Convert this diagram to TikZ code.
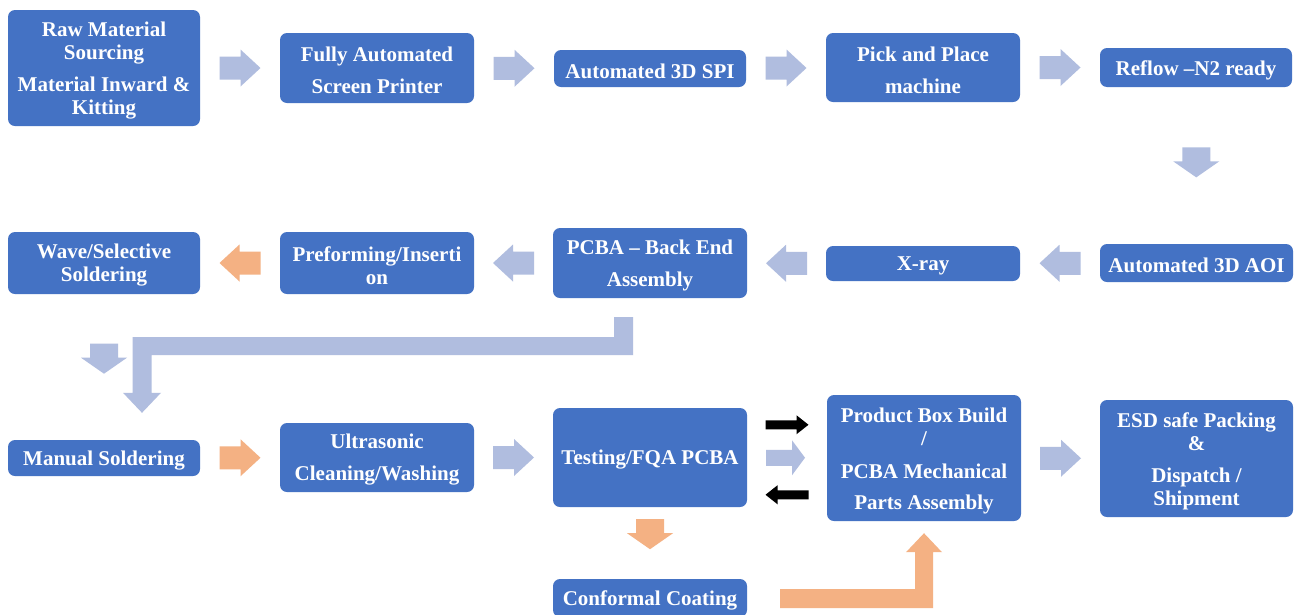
\documentclass[tikz,border=0pt]{standalone}
\usepackage{fontspec}
\setmainfont{Liberation Serif}
\usetikzlibrary{calc}
\definecolor{boxblue}{HTML}{4472C4}
\definecolor{arrblue}{HTML}{B0BDDF}
\definecolor{arrorange}{HTML}{F4B183}
% #1 style, #2 centre, #3 angle, #4 half length, #5 head length, #6 shaft half width, #7 head half width
\newcommand{\blockarr}[7]{\fill[#1, shift={#2}, rotate=#3] (-#4,-#6) -- ({#4-#5},-#6) -- ({#4-#5},-#7) -- (#4,0) -- ({#4-#5},#7) -- ({#4-#5},#6) -- (-#4,#6) -- cycle;}
\newcommand{\harr}[3]{\blockarr{#1}{#2}{#3}{20.5}{20}{11.5}{18.5}}
\newcommand{\varr}[2]{\blockarr{#1}{#2}{-90}{15}{16}{14}{23}}
% #1 name, #2 centre, #3 width, #4 height, #5 text
\newcommand{\bx}[5]{\node[box, minimum width=#3pt, minimum height=#4pt] (#1) at #2 {};
  \node[boxtext] (#1-t) at ($(#1.center)+(0,2.5)$) {#5};}
\tikzset{
  box/.style={fill=boxblue, draw=none, rounded corners=7pt, inner sep=0pt},
  boxtext/.style={inner sep=0pt, text=white, align=center, font=\bfseries\fontsize{21}{23}\selectfont},
}
\begin{document}
\begin{tikzpicture}[x=1pt,y=-1pt]
\useasboundingbox (0,0) rectangle (1300,614);
\clip (0,0) rectangle (1300,614);
\fill[white] (0,0) rectangle (1300,614);
% row 1
\bx{raw}{(104,68)}{192}{116}{Raw Material\\Sourcing\\[9pt]Material Inward \&\\Kitting}
\bx{printer}{(377,68)}{194}{70}{Fully Automated\\[9pt]Screen Printer}
\bx{spi}{(650,68.5)}{192}{37}{Automated 3D SPI}
\bx{pnp}{(923,67.5)}{194}{69}{Pick and Place\\[9pt]machine}
\bx{reflow}{(1196,67.5)}{192}{39}{Reflow –N2 ready}
% row 2
\bx{wave}{(104,263)}{192}{62}{Wave/Selective\\Soldering}
\bx{preform}{(377,263)}{194}{62}{Preforming/Inserti\\on}
\bx{pcba}{(650,263)}{194}{70}{PCBA – Back End\\[9pt]Assembly}
\bx{xray}{(923,263.5)}{194}{35}{X-ray}
\bx{aoi}{(1196.5,263)}{193}{38}{Automated 3D AOI}
% row 3
\bx{manual}{(104,458)}{192}{36}{Manual Soldering}
\bx{ultra}{(377,457.5)}{194}{69}{Ultrasonic\\[9pt]Cleaning/Washing}
\bx{test}{(650,457.5)}{194}{99}{Testing/FQA PCBA}
\bx{product}{(924,458)}{194}{126}{Product Box Build\\/\\[10pt]PCBA Mechanical\\[8pt]Parts Assembly}
\bx{esd}{(1196.5,458.5)}{193}{117}{ESD safe Packing\\\&\\[9pt]Dispatch /\\Shipment}
\bx{conformal}{(650,598)}{194}{38}{Conformal Coating}
% row 1 arrows
\harr{arrblue}{($(raw.east)!0.5!(printer.west)$)}{0}
\harr{arrblue}{($(printer.east)!0.5!(spi.west)$)}{0}
\harr{arrblue}{($(spi.east)!0.5!(pnp.west)$)}{0}
\harr{arrblue}{($(pnp.east)!0.5!(reflow.west)$)}{0}
\varr{arrblue}{($(reflow.south)!0.48!(aoi.north)$)}
% row 2 arrows
\harr{arrblue}{($(aoi.west)!0.5!(xray.east)$)}{180}
\harr{arrblue}{($(xray.west)!0.5!(pcba.east)$)}{180}
\harr{arrblue}{($(pcba.west)!0.5!(preform.east)$)}{180}
\harr{arrorange}{($(preform.west)!0.5!(wave.east)$)}{180}
\varr{arrblue}{($(wave.south)+(0,64.5)$)}
% bent arrow from PCBA back end to manual soldering
\coordinate (bs) at ($(pcba.south)+(-26.5,19)$);
\coordinate (bt) at ($(manual.north)+(38,-27)$);
\fill[arrblue] let \p1=(bs), \p2=(bt) in
  (\x1-9.5pt,\y1) -- (\x1+9.5pt,\y1) -- (\x1+9.5pt,\y1-38pt) -- (\x2+9.5pt,\y1-38pt)
  -- (\x2+9.5pt,\y2+20pt) -- (\x2+19pt,\y2+20pt) -- (\x2,\y2) -- (\x2-19pt,\y2+20pt)
  -- (\x2-9.5pt,\y2+20pt) -- (\x2-9.5pt,\y1-20pt) -- (\x1-9.5pt,\y1-20pt) -- cycle;
% row 3 arrows
\harr{arrorange}{($(manual.east)!0.5!(ultra.west)$)}{0}
\harr{arrblue}{($(ultra.east)!0.5!(test.west)$)}{0}
\coordinate (tp) at ($(test.east)!0.5!(product.west)$);
\blockarr{black}{($(tp)+(0,-33)$)}{0}{21.5}{12}{4.5}{9.5}
\blockarr{arrblue}{($(tp)+(-1.5,0)$)}{0}{19.5}{13}{8}{17.5}
\blockarr{black}{($(tp)+(0,37)$)}{180}{21.5}{12}{4.5}{9.5}
\harr{arrblue}{($(product.east)!0.5!(esd.west)$)}{0}
\varr{arrorange}{($(test.south)+(0,27)$)}
% bent arrow from conformal coating up to product box build
\coordinate (os) at ($(conformal.east)+(33,0.5)$);
\coordinate (ot) at ($(product.south)+(0,12)$);
\fill[arrorange] let \p1=(os), \p2=(ot) in
  (\x1,\y1+9.5pt) -- (\x2-9pt,\y1+9.5pt) -- (\x2-9pt,\y2-19pt) -- (\x2-18pt,\y2-19pt)
  -- (\x2,\y2) -- (\x2+18pt,\y2-19pt) -- (\x2+9pt,\y2-19pt) -- (\x2+9pt,\y1-9.5pt)
  -- (\x1,\y1-9.5pt) -- cycle;
\end{tikzpicture}
\end{document}
